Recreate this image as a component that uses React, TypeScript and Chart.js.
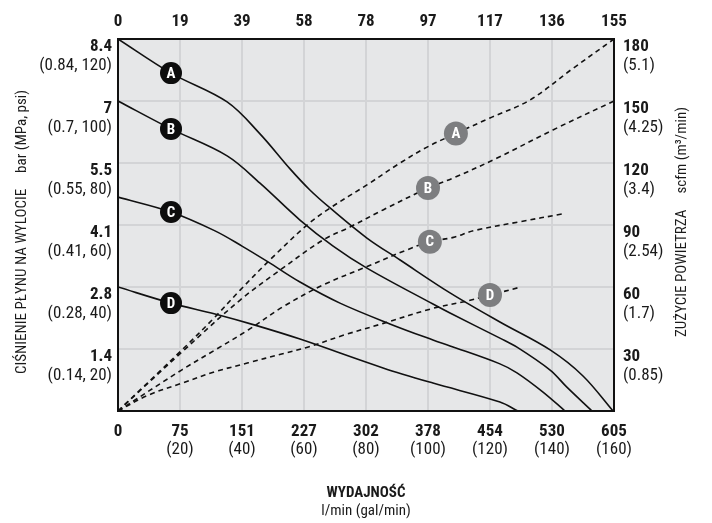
import React, { useEffect, useRef } from "react";
import { Chart, registerables } from "chart.js";

Chart.register(...registerables);

// ---- Axis ticks / labels ----
const flowTicksGpm = [0, 20, 40, 60, 80, 100, 120, 140, 160];
const flowLpmLabels = ["0", "75", "151", "227", "302", "378", "454", "530", "605"];
const flowGalLabels = ["", "(20)", "(40)", "(60)", "(80)", "(100)", "(120)", "(140)", "(160)"];
const topFlowLabels = ["0", "19", "39", "58", "78", "97", "117", "136", "155"];

const pressureTicksPsi = [20, 40, 60, 80, 100, 120];
const pressureBarLabels = ["1.4", "2.8", "4.1", "5.5", "7", "8.4"];
const pressureSubLabels = ["(0.14, 20)", "(0.28, 40)", "(0.41, 60)", "(0.55, 80)", "(0.7, 100)", "(0.84, 120)"];

const airTicksScfm = [30, 60, 90, 120, 150, 180];
const airScfmLabels = ["30", "60", "90", "120", "150", "180"];
const airM3Labels = ["(0.85)", "(1.7)", "(2.54)", "(3.4)", "(4.25)", "(5.1)"];

const xTitle = "WYDAJNOŚĆ";
const xSubTitle = "l/min (gal/min)";
const leftTitle = "CIŚNIENIE PŁYNU NA WYLOCIE";
const leftUnit = "bar (MPa, psi)";
const rightTitle = "ZUŻYCIE POWIETRZA";
const rightUnit = "scfm (m³/min)";

// ---- Pressure curves (flow gpm -> psi) ----
const pressAFlow = [0, 17.1, 35.2, 45.8, 55.5, 61.9, 68.4, 80.3, 91, 107.1, 123.2, 139.4, 150, 159.7];
const pressAPsi = [120, 109, 99.7, 89.4, 78.1, 71.3, 65.5, 55.8, 48.7, 38.1, 28.7, 19.7, 11.3, 0];

const pressBFlow = [0, 17.1, 35.2, 45.8, 58.7, 69.4, 80.3, 101.6, 107.1, 123.2, 128.7, 139.4, 144.8, 152.9];
const pressBPsi = [100, 91, 82.3, 73.5, 61.6, 53.2, 46.1, 34.5, 31.6, 23.5, 20.6, 13.2, 7.7, 0];

const pressCFlow = [0, 17.1, 31.3, 40, 48.4, 58.7, 71.6, 87.7, 101.6, 107.1, 123.2, 128.7, 137.1, 144.2];
const pressCPsi = [69, 64.2, 58.1, 53.2, 48.1, 41.6, 34.8, 28.1, 22.9, 21, 15.2, 12.3, 6.1, 0];

const pressDFlow = [0, 17.1, 31.3, 44.2, 58.7, 85.5, 101.6, 123.2, 129];
const pressDPsi = [40, 34.8, 31.3, 27.7, 23.2, 13.9, 9, 2.9, 0];

// ---- Air consumption curves (flow gpm -> scfm) ----
const airAFlow = [0, 20.6, 31.3, 39.4, 49, 61, 68.4, 80.3, 91, 99.7, 109, 120, 132.9, 146.5, 160];
const airAScfm = [0, 29.5, 45.5, 58.5, 73.1, 90, 98.2, 109.4, 120, 127.7, 134.3, 141.8, 150.5, 165.5, 180];

const airBFlow = [0, 20.6, 39.4, 52.3, 66.1, 74.8, 85.5, 100, 108.1, 122.3, 140.3, 160];
const airBScfm = [0, 28.5, 53.7, 68.2, 82.7, 89, 97.3, 107.9, 112.7, 122.4, 136, 150];

const airCFlow = [0, 20.5, 31.3, 42, 53.3, 66.2, 80.2, 93.1, 100.6, 108.2, 114.6, 129.7, 143.2];
const airCScfm = [0, 19.8, 29.5, 39.2, 50.5, 61, 69.8, 77.9, 81.9, 84, 87.2, 91.6, 95.3];

const airDFlow = [0, 9.8, 20.5, 31.3, 42, 52.8, 61.4, 73, 85.6, 101.7, 112.5, 120, 129.7];
const airDScfm = [0, 7.7, 13.4, 19, 23.3, 27.6, 31, 36.8, 42.4, 49.7, 53.2, 56.1, 59.9];

// ---- Curve markers ----
const markerLetters = ["A", "B", "C", "D"];
const pressMarkerFlow = [17.1, 17.1, 17.1, 17.1];
const pressMarkerPsi = [109, 91, 64.2, 34.8];
const airMarkerFlow = [109, 100, 100.6, 120];
const airMarkerScfm = [134.3, 107.9, 81.9, 56.1];

const FONT = '"Liberation Sans Narrow", "Arial Narrow", "Roboto Condensed", "DejaVu Sans Condensed", sans-serif';

const zip = (xs: number[], ys: number[]) => xs.map((x, i) => ({ x, y: ys[i] }));

const textPlugin = {
  id: "customText",
  beforeDraw(chart: any) {
    const { ctx, chartArea: a } = chart;
    ctx.save();
    ctx.fillStyle = "#e6e7e8";
    ctx.fillRect(a.left, a.top, a.right - a.left, a.bottom - a.top);
    ctx.restore();
  },
  afterDatasetsDraw(chart: any) {
    const { ctx, chartArea: a } = chart;
    ctx.save();
    chart.data.datasets.forEach((ds: any, di: number) => {
      if (!ds.isMarker) return;
      const meta = chart.getDatasetMeta(di);
      meta.data.forEach((pt: any, i: number) => {
        ctx.fillStyle = "#ffffff";
        ctx.font = `bold 15px ${FONT}`;
        ctx.textAlign = "center";
        ctx.textBaseline = "middle";
        ctx.fillText(markerLetters[i], pt.x, pt.y + 1);
      });
    });
    ctx.strokeStyle = "#111111";
    ctx.lineWidth = 2;
    ctx.strokeRect(a.left, a.top, a.right - a.left, a.bottom - a.top);
    ctx.restore();
  },
  afterDraw(chart: any) {
    const { ctx, chartArea: a, scales } = chart;
    const xs = scales.x;
    const ys = scales.y;
    const y2 = scales.y2;
    ctx.save();
    ctx.fillStyle = "#1a1a1a";
    ctx.textBaseline = "middle";
    const bold = `bold 17px ${FONT}`;
    const norm = `17px ${FONT}`;

    ctx.textAlign = "center";
    flowTicksGpm.forEach((v, i) => {
      const px = xs.getPixelForValue(v);
      ctx.font = bold;
      ctx.fillText(flowLpmLabels[i], px, a.bottom + 21);
      ctx.fillText(topFlowLabels[i], px, a.top - 17);
      ctx.font = norm;
      if (flowGalLabels[i]) ctx.fillText(flowGalLabels[i], px, a.bottom + 39);
    });

    ctx.textAlign = "right";
    pressureTicksPsi.forEach((v, i) => {
      const py = ys.getPixelForValue(v);
      ctx.font = bold;
      ctx.fillText(pressureBarLabels[i], a.left - 6, py + 8);
      ctx.font = norm;
      ctx.fillText(pressureSubLabels[i], a.left - 6, py + 27);
    });

    ctx.textAlign = "left";
    airTicksScfm.forEach((v, i) => {
      const py = y2.getPixelForValue(v);
      ctx.font = bold;
      ctx.fillText(airScfmLabels[i], a.right + 9, py + 8);
      ctx.font = norm;
      ctx.fillText(airM3Labels[i], a.right + 9, py + 27);
    });

    const cx = (a.left + a.right) / 2;
    ctx.textAlign = "center";
    ctx.font = `bold 15px ${FONT}`;
    ctx.fillText(xTitle, cx, a.bottom + 82);
    ctx.font = `15px ${FONT}`;
    ctx.fillText(xSubTitle, cx, a.bottom + 100);

    const drawRotated = (main: string, unit: string, x: number, yc: number) => {
      ctx.save();
      ctx.font = `15px ${FONT}`;
      const gap = 16;
      const w1 = ctx.measureText(main).width;
      const w2 = ctx.measureText(unit).width;
      const total = w1 + gap + w2;
      ctx.translate(x, yc);
      ctx.rotate(-Math.PI / 2);
      ctx.textAlign = "left";
      ctx.fillText(main, -total / 2, 0);
      ctx.fillText(unit, -total / 2 + w1 + gap, 0);
      ctx.restore();
    };
    drawRotated(leftTitle, leftUnit, 22, 232);
    drawRotated(rightTitle, rightUnit, 682, 222);
    ctx.restore();
  },
};

export default function App() {
  const ref = useRef<HTMLCanvasElement>(null);
  useEffect(() => {
    if (!ref.current) return;
    const solid = (data: any[]) => ({
      type: "line",
      data,
      yAxisID: "y",
      borderColor: "#111111",
      borderWidth: 1.6,
      pointRadius: 0,
      tension: 0.35,
      fill: false,
      order: 2,
    });
    const dashed = (data: any[]) => ({
      type: "line",
      data,
      yAxisID: "y2",
      borderColor: "#111111",
      borderWidth: 1.6,
      borderDash: [5, 4],
      pointRadius: 0,
      tension: 0.35,
      fill: false,
      order: 2,
    });
    const chart = new Chart(ref.current, {
      type: "line",
      data: {
        datasets: [
          {
            type: "scatter",
            isMarker: true,
            data: zip(pressMarkerFlow, pressMarkerPsi),
            yAxisID: "y",
            pointRadius: 11,
            pointBackgroundColor: "#0d0d0d",
            pointBorderColor: "#0d0d0d",
            pointBorderWidth: 0,
            order: 0,
          } as any,
          {
            type: "scatter",
            isMarker: true,
            data: zip(airMarkerFlow, airMarkerScfm),
            yAxisID: "y2",
            pointRadius: 12,
            pointBackgroundColor: "#7d7e80",
            pointBorderColor: "#7d7e80",
            pointBorderWidth: 0,
            order: 0,
          } as any,
          solid(zip(pressAFlow, pressAPsi)),
          solid(zip(pressBFlow, pressBPsi)),
          solid(zip(pressCFlow, pressCPsi)),
          solid(zip(pressDFlow, pressDPsi)),
          dashed(zip(airAFlow, airAScfm)),
          dashed(zip(airBFlow, airBScfm)),
          dashed(zip(airCFlow, airCScfm)),
          dashed(zip(airDFlow, airDScfm)),
        ] as any,
      },
      options: {
        responsive: false,
        maintainAspectRatio: false,
        animation: false,
        devicePixelRatio: 1,
        layout: { padding: 0 },
        plugins: { legend: { display: false }, tooltip: { enabled: false } },
        scales: {
          x: {
            type: "linear",
            position: "bottom",
            min: 0,
            max: 160,
            ticks: { display: false, stepSize: 20 },
            grid: { color: "#d3d4d6", lineWidth: 2, drawTicks: false },
            border: { display: false },
            afterFit: (s: any) => { s.height = 112; },
          },
          xTop: {
            type: "linear",
            position: "top",
            min: 0,
            max: 160,
            ticks: { display: false },
            grid: { display: false, drawTicks: false },
            border: { display: false },
            afterFit: (s: any) => { s.height = 39; },
          },
          y: {
            type: "linear",
            position: "left",
            min: 0,
            max: 120,
            ticks: { display: false, stepSize: 20 },
            grid: { color: "#d3d4d6", lineWidth: 2, drawTicks: false },
            border: { display: false },
            afterFit: (s: any) => { s.width = 118; },
          },
          y2: {
            type: "linear",
            position: "right",
            min: 0,
            max: 180,
            ticks: { display: false, stepSize: 30 },
            grid: { display: false, drawTicks: false },
            border: { display: false },
            afterFit: (s: any) => { s.width = 98; },
          },
        },
      } as any,
      plugins: [textPlugin],
    });
    return () => chart.destroy();
  }, []);
  return (
    <div style={{ position: "fixed", left: 0, top: 0, width: 712, height: 523, background: "#fff" }}>
      <canvas ref={ref} width={712} height={523} style={{ display: "block", width: 712, height: 523 }} />
    </div>
  );
}
